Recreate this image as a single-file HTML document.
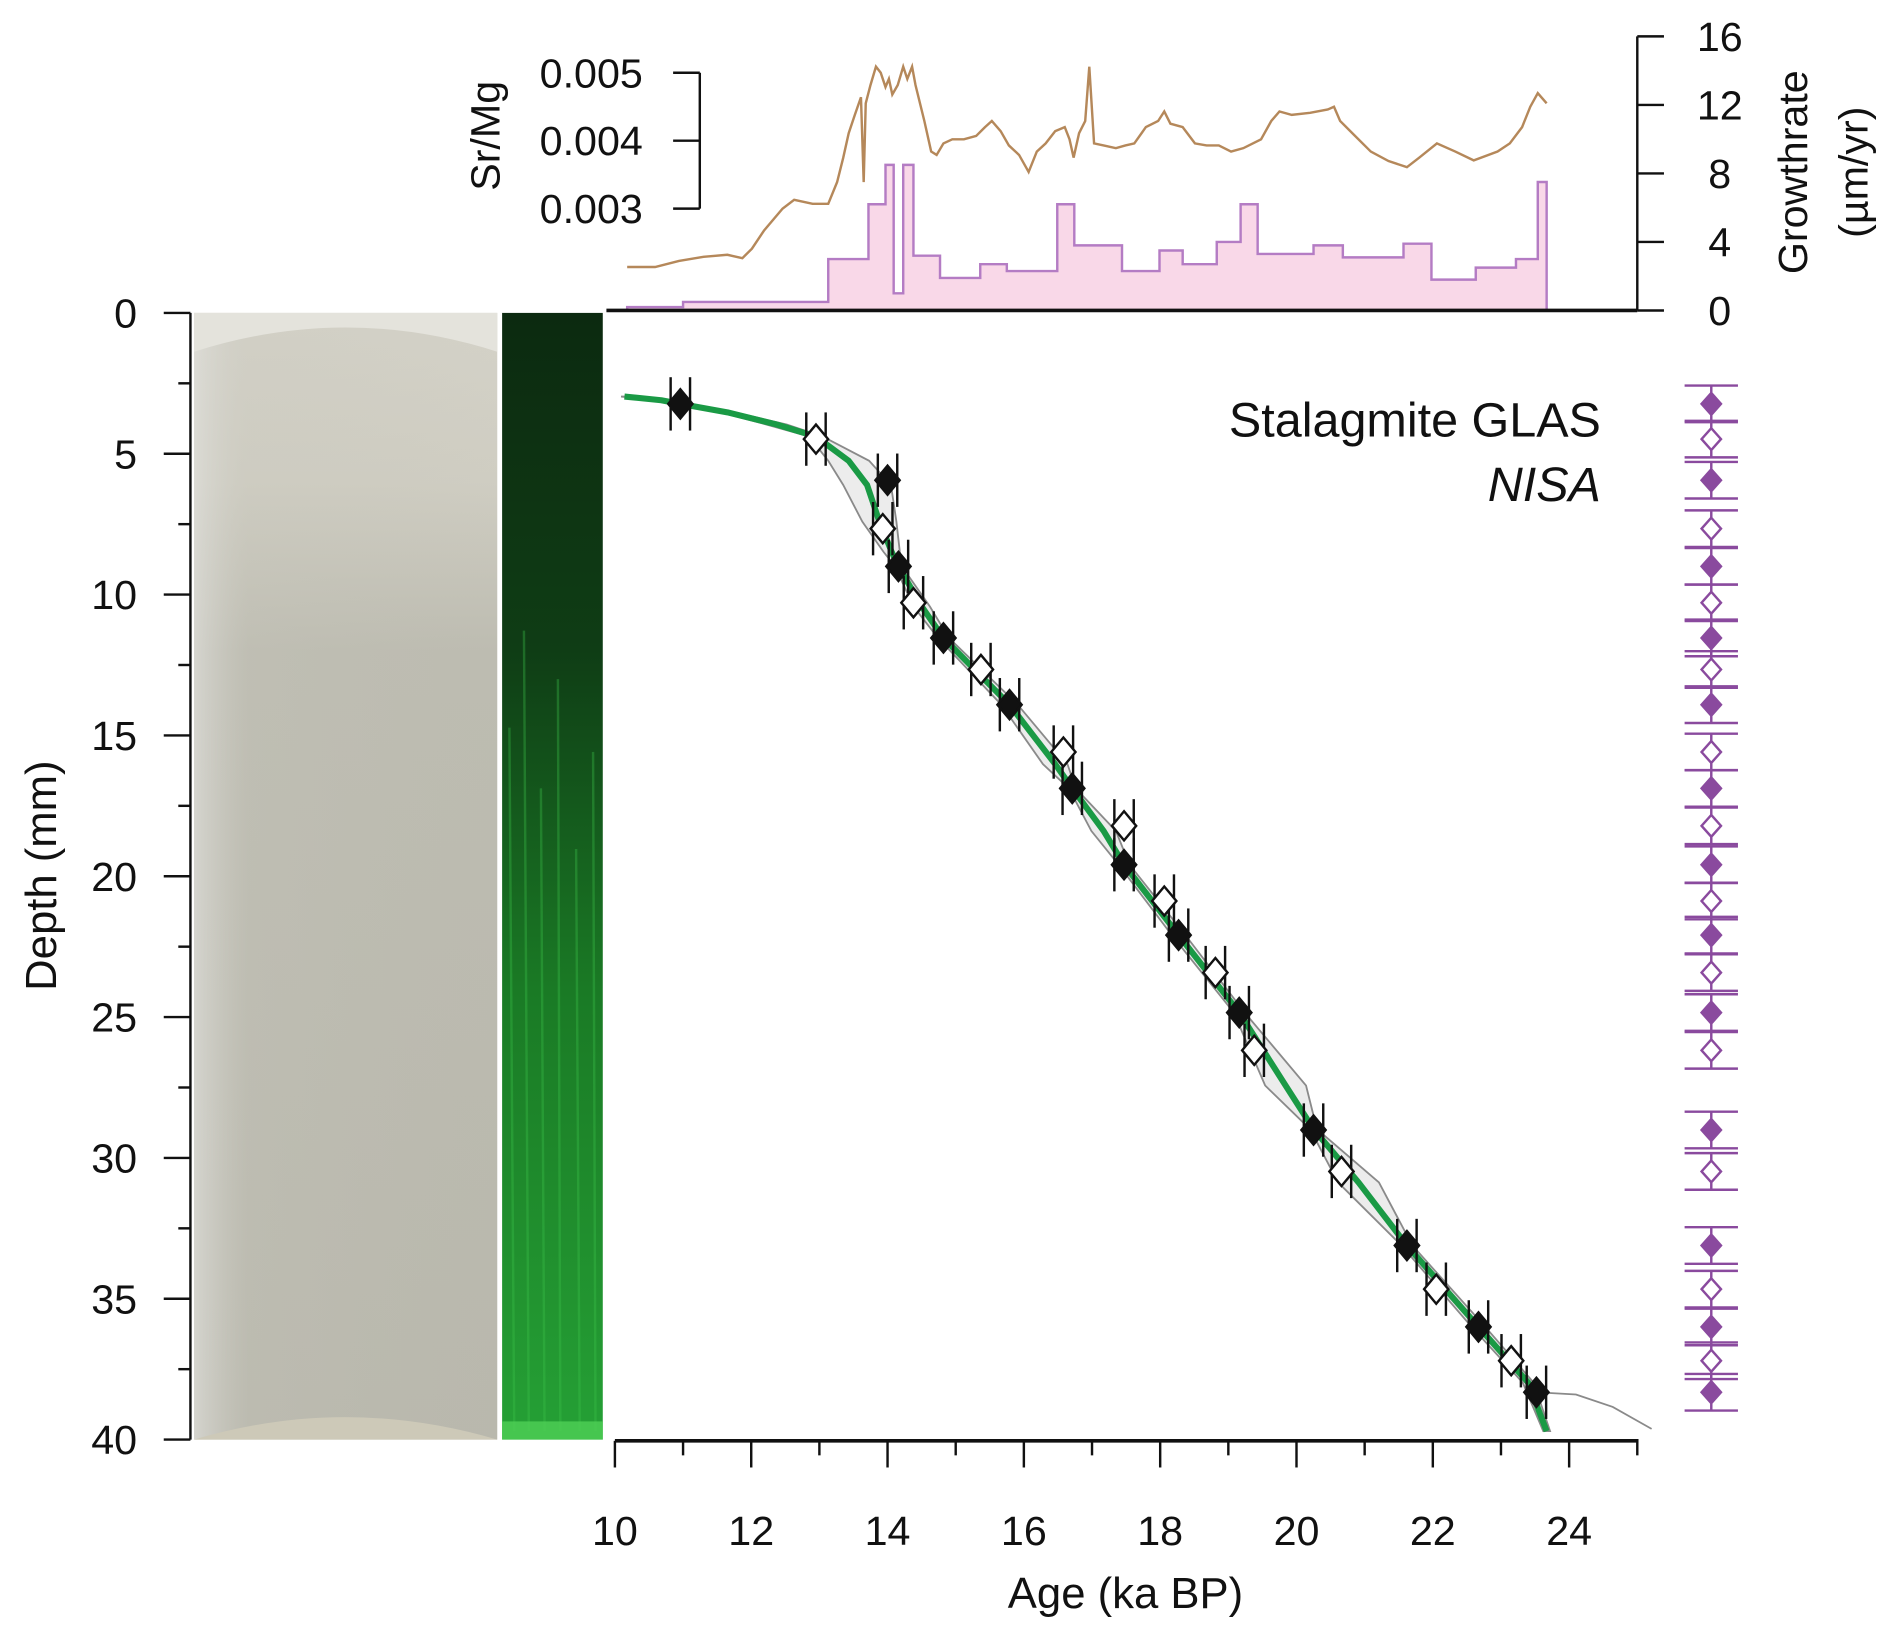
<!DOCTYPE html>
<html><head><meta charset="utf-8"><style>
html,body{margin:0;padding:0;background:#fff}
svg{display:block}
text{font-family:"Liberation Sans",sans-serif;fill:#111}
</style></head><body>
<svg id="chart" width="1892" height="1630" viewBox="0 0 1560 1344" xmlns="http://www.w3.org/2000/svg">
<defs>
<linearGradient id="photoG" x1="0" y1="0" x2="0" y2="1">
<stop offset="0" stop-color="#d4d2c8"/><stop offset="0.15" stop-color="#cfcdc2"/><stop offset="0.3" stop-color="#bdbcb1"/><stop offset="1" stop-color="#b9b8ad"/></linearGradient>
<linearGradient id="photoH" x1="0" y1="0" x2="1" y2="0">
<stop offset="0" stop-color="#e0e0dc" stop-opacity="0.7"/><stop offset="0.18" stop-color="#c8c7bd" stop-opacity="0.2"/><stop offset="1" stop-color="#c0bfb4" stop-opacity="0"/></linearGradient>
<linearGradient id="greenG" x1="0" y1="0" x2="0" y2="1">
<stop offset="0" stop-color="#0c2a10"/><stop offset="0.3" stop-color="#0f3d15"/><stop offset="0.6" stop-color="#1a7a25"/><stop offset="1" stop-color="#25a035"/></linearGradient>
</defs>
<g>
<rect x="160" y="258" width="250" height="929" fill="url(#photoG)"/>
<rect x="160" y="258" width="250" height="929" fill="url(#photoH)"/>
<path d="M160 290 Q285 250 410 290 L410 258 L160 258Z" fill="#e4e3dc"/>
<path d="M160 1187 Q285 1150 410 1187Z" fill="#cdc9b8"/>
</g>
<g>
<rect x="414" y="258" width="83" height="929" fill="url(#greenG)"/>
<g stroke="#3cc24a" stroke-opacity="0.35" stroke-width="2">
<line x1="420" y1="600" x2="424" y2="1180"/><line x1="432" y1="520" x2="436" y2="1180"/><line x1="446" y1="650" x2="449" y2="1180"/><line x1="460" y1="560" x2="462" y2="1180"/><line x1="475" y1="700" x2="478" y2="1180"/><line x1="489" y1="620" x2="491" y2="1180"/></g>
<rect x="414" y="1172" width="83" height="15" fill="#4fd056" opacity="0.8"/>
</g>
<g id="topPanel"></g>
<g id="mainPanel"></g>
<text x="1320" y="360" font-size="40" text-anchor="end">Stalagmite GLAS</text>
<text x="1320" y="413" font-size="40" font-style="italic" text-anchor="end">NISA</text>
<text x="928" y="1326" font-size="36" text-anchor="middle">Age (ka BP)</text>
<text transform="translate(46 722) rotate(-90)" font-size="36" text-anchor="middle">Depth (mm)</text>
<text transform="translate(412 112) rotate(-90)" font-size="34" text-anchor="middle">Sr/Mg</text>
<text transform="translate(1490 142) rotate(-90)" font-size="34" text-anchor="middle">Growthrate</text>
<text transform="translate(1540 142) rotate(-90)" font-size="34" text-anchor="middle">(µm/yr)</text>
</svg>
<script>
const xTicks=[10,12,14,16,18,20,22,24];
const yTicks=[0,5,10,15,20,25,30,35,40];
const grTicks=[0,4,8,12,16];
const srTicks=[0.003,0.004,0.005];
const grAge=[10.18,11.0,13.13,13.72,13.97,14.09,14.23,14.38,14.77,15.36,15.75,16.49,16.74,17.44,17.99,18.33,18.83,19.18,19.43,20.25,20.68,21.57,21.98,22.63,23.22,23.54,23.67];
const grVal=[0.2,0.5,3,6.2,8.5,1.0,8.5,3.2,1.9,2.7,2.3,6.2,3.8,2.3,3.5,2.7,4.0,6.2,3.3,3.8,3.1,3.9,1.8,2.5,3.0,7.5,7.5];
const srAge=[10.18,10.59,10.94,11.30,11.65,11.87,12.01,12.19,12.46,12.63,12.90,13.13,13.26,13.35,13.43,13.52,13.61,13.65,13.68,13.75,13.83,13.90,13.97,14.02,14.07,14.15,14.23,14.29,14.36,14.41,14.54,14.64,14.72,14.82,14.95,15.12,15.30,15.43,15.53,15.66,15.78,15.93,16.07,16.19,16.32,16.46,16.60,16.67,16.73,16.81,16.90,16.96,17.03,17.17,17.35,17.49,17.62,17.79,17.97,18.06,18.15,18.33,18.51,18.68,18.86,19.04,19.22,19.48,19.63,19.75,19.93,20.20,20.46,20.55,20.64,20.82,21.09,21.35,21.62,21.80,22.06,22.33,22.60,22.95,23.13,23.31,23.43,23.54,23.67];
const srVal=[0.00214,0.00214,0.00223,0.00229,0.00232,0.00227,0.00241,0.00268,0.00300,0.00313,0.00307,0.00307,0.00339,0.00375,0.00411,0.00438,0.00464,0.00339,0.00455,0.00482,0.00509,0.00500,0.00479,0.00491,0.00468,0.00482,0.00509,0.00491,0.00509,0.00482,0.00429,0.00384,0.00379,0.00396,0.00402,0.00402,0.00407,0.00420,0.00429,0.00414,0.00393,0.00379,0.00354,0.00384,0.00396,0.00414,0.00420,0.00402,0.00375,0.00411,0.00429,0.00509,0.00396,0.00393,0.00389,0.00393,0.00396,0.00420,0.00429,0.00443,0.00425,0.00420,0.00396,0.00393,0.00393,0.00384,0.00389,0.00402,0.00429,0.00443,0.00438,0.00441,0.00446,0.00450,0.00429,0.00411,0.00384,0.00370,0.00361,0.00375,0.00396,0.00384,0.00371,0.00384,0.00396,0.00420,0.00450,0.00470,0.00455];
const fAge=[10.96,14.00,14.16,14.82,15.79,16.71,17.47,18.27,19.16,20.25,21.62,22.67,23.52];
const fDepth=[3.23,5.94,9.00,11.54,13.91,16.88,19.59,22.09,24.84,29.01,33.11,36.00,38.32];
const oAge=[12.95,13.93,14.38,15.37,16.58,17.47,18.06,18.81,19.38,20.66,22.05,23.15];
const oDepth=[4.48,7.66,10.29,12.66,15.59,18.21,20.88,23.42,26.18,30.48,34.66,37.20];
const mAge=[10.14,10.68,10.96,11.65,12.37,12.95,13.43,13.70,13.88,14.06,14.16,14.50,14.82,15.79,16.46,16.71,17.17,17.47,18.27,19.16,19.84,20.25,20.91,21.62,22.67,23.40,23.67];
const mDepth=[2.97,3.10,3.23,3.53,3.96,4.39,5.25,6.11,7.41,8.48,9.00,10.42,11.54,13.91,16.02,16.88,18.39,19.59,22.09,24.84,27.43,28.98,30.87,33.11,36.00,37.98,39.70];
const bandW=[0.05,0.05,0.05,0.1,0.15,0.1,0.3,0.35,0.25,0.12,0.05,0.12,0.08,0.12,0.18,0.05,0.18,0.08,0.1,0.08,0.3,0.05,0.3,0.08,0.1,0.08,0.05];
const extAge=[23.52,24.1,24.64,25.21];
const extDepth=[38.32,38.4,38.84,39.62];

const NS='http://www.w3.org/2000/svg';
const X=a=>507+(a-10)*56.2;
const Y=d=>258+d*23.225;
const GY=v=>256-v*14.125;
const SY=v=>60+(0.005-v)*56000;
function mk(p,t,at){const e=document.createElementNS(NS,t);for(const k in at)e.setAttribute(k,at[k]);p.appendChild(e);return e;}
const topG=document.getElementById('topPanel'), mainG=document.getElementById('mainPanel');

let gp='M'+X(grAge[0])+' 256';
for(let i=0;i<grAge.length-1;i++){gp+=' L'+X(grAge[i])+' '+GY(grVal[i])+' L'+X(grAge[i+1])+' '+GY(grVal[i]);}
const lastX=X(grAge[grAge.length-1]);
const gArea=mk(topG,'path',{d:gp+' L'+lastX+' 256 Z',fill:'#f9d8e8',stroke:'none'});


const gLine=mk(topG,'path',{d:gp+' L'+lastX+' 256',fill:'none',stroke:'#b47cc4','stroke-width':2});


const sLine=mk(topG,'polyline',{points:srAge.map((a,i)=>X(a)+','+SY(srVal[i])).join(' '),fill:'none',stroke:'#b5885a','stroke-width':2});


const tb=mk(topG,'line',{x1:500,y1:256,x2:1350,y2:256,stroke:'#111','stroke-width':3});


const ra=mk(topG,'line',{x1:1350,y1:GY(16),x2:1350,y2:256,stroke:'#111','stroke-width':2});


grTicks.forEach(v=>{
  mk(topG,'line',{x1:1350,y1:GY(v),x2:1372,y2:GY(v),stroke:'#111','stroke-width':2});
  const t=mk(topG,'text',{x:1418,y:GY(v)+12,'font-size':34,'text-anchor':'middle'});t.textContent=v;
  
  
});
const sa=mk(topG,'line',{x1:577,y1:SY(0.005),x2:577,y2:SY(0.003),stroke:'#111','stroke-width':2});


srTicks.forEach(v=>{
  mk(topG,'line',{x1:555,y1:SY(v),x2:577,y2:SY(v),stroke:'#111','stroke-width':2});
  const t=mk(topG,'text',{x:530,y:SY(v)+12,'font-size':34,'text-anchor':'end'});t.textContent=v.toFixed(3);
  
  
});

const da=mk(mainG,'line',{x1:157,y1:Y(0),x2:157,y2:Y(40),stroke:'#111','stroke-width':2});


for(let d=0;d<=40;d+=2.5){
  const major=d%5===0;
  mk(mainG,'line',{x1:major?135:147,y1:Y(d),x2:157,y2:Y(d),stroke:'#111','stroke-width':2});
}
yTicks.forEach(d=>{const t=mk(mainG,'text',{x:113,y:Y(d)+12,'font-size':34,'text-anchor':'end'});t.textContent=d;
  
  });
const aa=mk(mainG,'line',{x1:507,y1:1188,x2:1351,y2:1188,stroke:'#111','stroke-width':3});


for(let a=10;a<=25;a++){
  const major=a%2===0;
  mk(mainG,'line',{x1:X(a),y1:1188,x2:X(a),y2:major?1210:1200,stroke:'#111','stroke-width':2});
}
xTicks.forEach(a=>{const t=mk(mainG,'text',{x:X(a),y:1274,'font-size':34,'text-anchor':'middle'});t.textContent=a;
  
  });

let bp=mAge.map((a,i)=>X(a-bandW[i])+','+Y(mDepth[i])).join(' ');
bp+=' '+mAge.map((a,i)=>X(a+bandW[i])+','+Y(mDepth[i])).reverse().join(' ');
const band=mk(mainG,'polygon',{points:bp,fill:'#ececec',stroke:'#8a8a8a','stroke-width':1.5});


const ext=mk(mainG,'polyline',{points:extAge.map((a,i)=>X(a)+','+Y(extDepth[i])).join(' '),fill:'none',stroke:'#8a8a8a','stroke-width':1.5});


const ml=mk(mainG,'polyline',{points:mAge.map((a,i)=>X(a)+','+Y(mDepth[i])).join(' '),fill:'none',stroke:'#1a9a45','stroke-width':5,'stroke-linejoin':'round'});



function diamond(g,cx,cy,hw,hh,filled,col,name){
  const p=mk(g,'polygon',{points:`${cx},${cy-hh} ${cx+hw},${cy} ${cx},${cy+hh} ${cx-hw},${cy}`,fill:filled?col:'#fff',stroke:col,'stroke-width':2});
  
  
}
function ageDates(ages,deps,filled){
  ages.forEach((a,i)=>{
    const cx=X(a),cy=Y(deps[i]);
    [-8,8].forEach(o=>mk(mainG,'line',{x1:cx+o,y1:cy-22,x2:cx+o,y2:cy+22,stroke:'#111','stroke-width':2}));
    mk(mainG,'line',{x1:cx-8,y1:cy,x2:cx+8,y2:cy,stroke:'#111','stroke-width':2});
    diamond(mainG,cx,cy,10,12,filled,'#111',filled?'age-date-filled':'age-date-open');
  });
}
ageDates(fAge,fDepth,true);
ageDates(oAge,oDepth,false);

const RX=1411;
function sampleCol(deps,filled){
  deps.forEach(d=>{
    const cy=Y(d);
    mk(mainG,'line',{x1:RX,y1:Y(d-0.65),x2:RX,y2:Y(d+0.65),stroke:'#8a4a9e','stroke-width':2});
    [-0.65,0.65].forEach(o=>mk(mainG,'line',{x1:RX-22,y1:Y(d+o),x2:RX+22,y2:Y(d+o),stroke:'#8a4a9e','stroke-width':2}));
    diamond(mainG,RX,cy,8,9,filled,'#8a4a9e',filled?'sample-filled':'sample-open');
  });
}
sampleCol(fDepth,true);
sampleCol(oDepth,false);
</script>
</body></html>
